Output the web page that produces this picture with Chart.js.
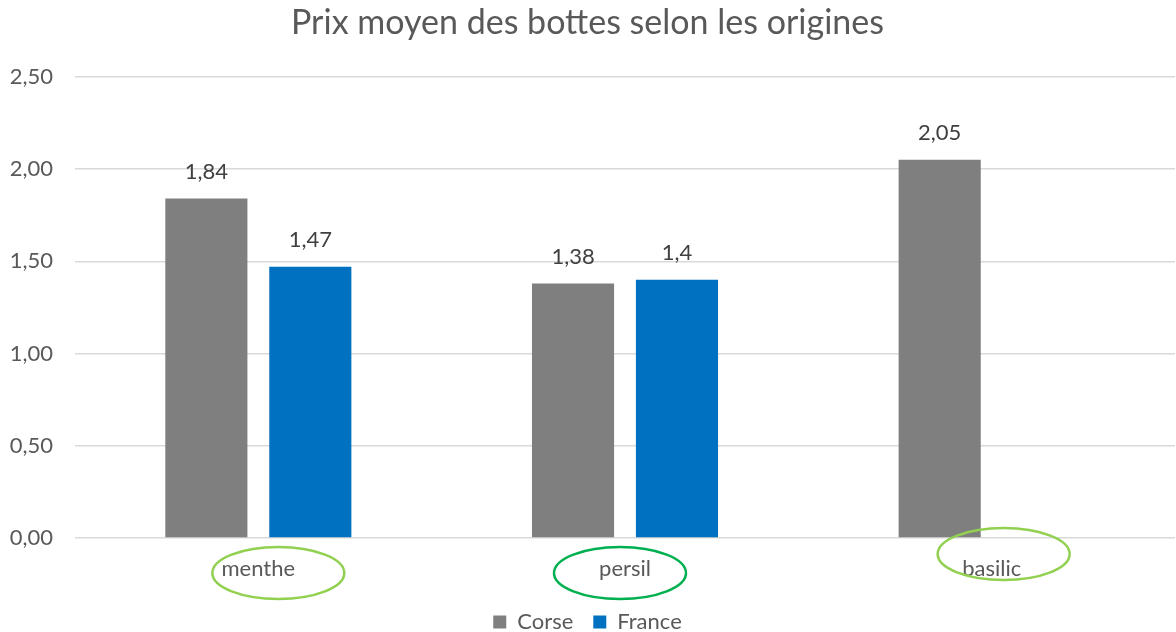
<!DOCTYPE html>
<html>
<head>
<meta charset="utf-8">
<script src="https://cdn.jsdelivr.net/npm/chart.js@4"></script>
<style>
  html, body { margin: 0; padding: 0; background: #fff; }
  #wrap { width: 1176px; height: 632px; }
</style>
</head>
<body>
<div id="wrap"><canvas id="chart"></canvas></div>
<script>
const categories = ['menthe', 'persil', 'basilic'];
const corseValues = [1.84, 1.38, 2.05];
const franceValues = [1.47, 1.4, null];
const yTicks = [0, 0.5, 1, 1.5, 2, 2.5];

// cercles verts autour des libellés (décalage par rapport au libellé)
const circles = [
  { dx: 20, dy: 35, color: '#92D050' },
  { dx: -5, dy: 35, color: '#00B050' },
  { dx: 12, dy: 16, color: '#92D050' },
];

const FONT = 'Lato, "Open Sans", sans-serif';

const labelPlugin = {
  id: 'barLabels',
  afterDatasetsDraw(chart) {
    const ctx = chart.ctx;
    ctx.save();
    ctx.font = '22px ' + FONT;
    ctx.fillStyle = '#404040';
    ctx.textAlign = 'center';
    ctx.textBaseline = 'middle';
    chart.data.datasets.forEach((ds, i) => {
      chart.getDatasetMeta(i).data.forEach((bar, j) => {
        const v = ds.data[j];
        if (v === null) return;
        ctx.fillText(String(v).replace('.', ','), bar.x, bar.y - 27);
      });
    });
    ctx.restore();
  },
};

const circlePlugin = {
  id: 'circles',
  afterDraw(chart) {
    const ctx = chart.ctx;
    const xs = chart.scales.x;
    ctx.save();
    ctx.lineWidth = 2.5;
    circles.forEach((c, i) => {
      const x = xs.getPixelForValue(i) + c.dx;
      const y = xs.top + c.dy;
      ctx.strokeStyle = c.color;
      ctx.beginPath();
      ctx.ellipse(x, y, 66, 26, 0, 0, Math.PI * 2);
      ctx.stroke();
    });
    ctx.restore();
  },
};

new Chart(document.getElementById('chart'), {
  type: 'bar',
  data: {
    labels: categories,
    datasets: [
      { label: 'Corse', data: corseValues, backgroundColor: '#7F7F7F' },
      { label: 'France', data: franceValues, backgroundColor: '#0070C0' },
    ],
  },
  options: {
    responsive: true,
    maintainAspectRatio: false,
    animation: false,
    categoryPercentage: 0.567,
    barPercentage: 0.79,
    layout: { padding: { left: 0, right: 1, top: 0, bottom: -11 } },
    plugins: {
      title: {
        display: true,
        text: 'Prix moyen des bottes selon les origines',
        color: '#595959',
        font: { family: FONT, size: 34, weight: 'normal' },
        padding: { top: 3, bottom: 33 },
      },
      legend: {
        position: 'bottom',
        labels: {
          color: '#595959',
          font: { family: FONT, size: 22 },
          boxWidth: 13,
          boxHeight: 13,
          padding: 20,
        },
      },
      tooltip: { enabled: false },
    },
    scales: {
      x: {
        grid: { display: false },
        border: { display: false },
        ticks: { color: '#595959', font: { family: FONT, size: 22 }, padding: 10 },
        afterFit(s) { s.height = 53; },
      },
      y: {
        min: 0,
        max: 2.5,
        afterBuildTicks(s) { s.ticks = yTicks.map(v => ({ value: v })); },
        afterFit(s) { s.width = 75; },
        grid: { color: '#D9D9D9', lineWidth: 1.5, drawTicks: false },
        border: { display: false },
        ticks: {
          color: '#595959',
          font: { family: FONT, size: 22 },
          padding: 22,
          callback: v => v.toFixed(2).replace('.', ','),
        },
      },
    },
  },
  plugins: [labelPlugin, circlePlugin],
});
</script>
</body>
</html>
